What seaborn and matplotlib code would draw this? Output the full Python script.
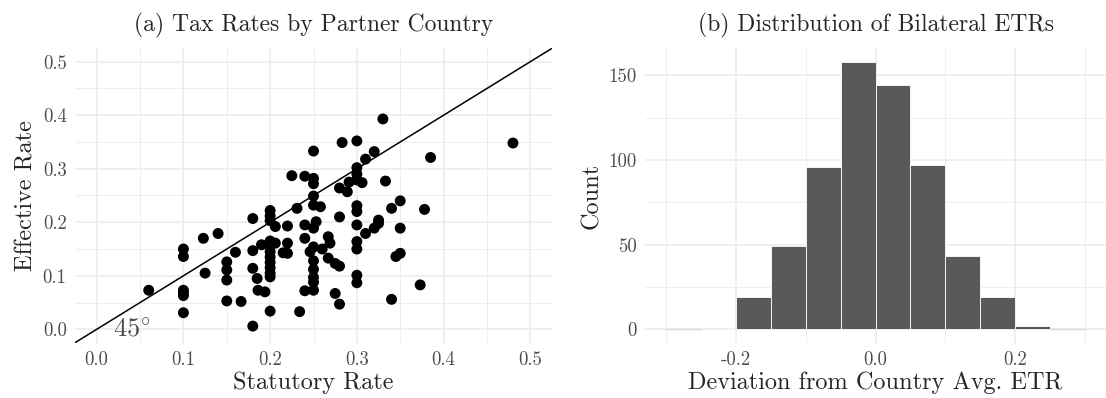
import numpy as np
import pandas as pd
import matplotlib
matplotlib.use('Agg')
import matplotlib.pyplot as plt
import seaborn as sns

# (a) statutory vs effective rate, one point per partner country
statutory = [
    0.06,
    0.10, 0.10, 0.10, 0.10, 0.10, 0.10,
    0.123, 0.125, 0.14,
    0.15, 0.15, 0.15, 0.15,
    0.16, 0.1665,
    0.18, 0.18, 0.18, 0.18, 0.185, 0.186, 0.194, 0.19,
    0.20, 0.20, 0.20, 0.20, 0.20, 0.20, 0.20, 0.20, 0.20, 0.20, 0.20, 0.20,
    0.206, 0.206, 0.215, 0.22, 0.22, 0.22, 0.225, 0.231, 0.234,
    0.24, 0.24, 0.24, 0.24, 0.246,
    0.25, 0.25, 0.25, 0.25, 0.25, 0.25, 0.25, 0.25, 0.25, 0.25, 0.25, 0.25,
    0.253, 0.258, 0.26, 0.267, 0.267, 0.269, 0.275, 0.275,
    0.28, 0.28, 0.28, 0.28, 0.283, 0.289, 0.291,
    0.30, 0.30, 0.30, 0.30, 0.30, 0.30, 0.30, 0.30, 0.30, 0.30, 0.30,
    0.306, 0.31, 0.31, 0.32, 0.32, 0.325, 0.325, 0.33, 0.333,
    0.34, 0.34, 0.345, 0.35, 0.35, 0.35,
    0.373, 0.378, 0.385, 0.48,
]
effective = [
    0.073,
    0.15, 0.136, 0.073, 0.068, 0.063, 0.031,
    0.17, 0.105, 0.179,
    0.126, 0.111, 0.092, 0.053,
    0.144, 0.052,
    0.207, 0.147, 0.114, 0.006, 0.095, 0.073, 0.07, 0.158,
    0.222, 0.212, 0.203, 0.165, 0.155, 0.145, 0.135, 0.125, 0.115, 0.105, 0.098, 0.034,
    0.192, 0.161, 0.143, 0.193, 0.161, 0.142, 0.287, 0.226, 0.033,
    0.286, 0.195, 0.17, 0.072, 0.145,
    0.333, 0.282, 0.272, 0.249, 0.232, 0.189, 0.154, 0.128, 0.112, 0.097, 0.088, 0.073,
    0.201, 0.229, 0.15, 0.173, 0.133, 0.161, 0.123, 0.067,
    0.264, 0.21, 0.118, 0.047, 0.349, 0.257, 0.275,
    0.352, 0.302, 0.29, 0.279, 0.231, 0.22, 0.195, 0.164, 0.15, 0.101, 0.087,
    0.274, 0.318, 0.179, 0.332, 0.189, 0.204, 0.198, 0.393, 0.277,
    0.226, 0.056, 0.136, 0.240, 0.189, 0.142,
    0.083, 0.224, 0.321, 0.348,
]

# (b) histogram of deviations, bins of width 0.05
bin_edges = [-0.30, -0.25, -0.20, -0.15, -0.10, -0.05, 0.00, 0.05, 0.10, 0.15, 0.20, 0.25, 0.30]
bin_counts = [0, 1, 19, 49, 96, 158, 144, 97, 43, 19, 2, 0]

rates = pd.DataFrame({'statutory': statutory, 'effective': effective})
mids = (np.array(bin_edges[:-1]) + np.array(bin_edges[1:])) / 2
hist = pd.DataFrame({'dev': mids, 'n': bin_counts})

sns.set_theme(style='whitegrid')
plt.rcParams['font.family'] = ['cmr10', 'DejaVu Serif']
plt.rcParams['mathtext.fontset'] = 'cm'
plt.rcParams['axes.formatter.use_mathtext'] = True
plt.rcParams['axes.unicode_minus'] = False

fig = plt.figure(figsize=(11.06, 3.98), dpi=100)
ax1 = fig.add_axes([75 / 1106, 1 - 342.7 / 398, 477 / 1106, 294.4 / 398])
ax2 = fig.add_axes([645 / 1106, 1 - 342.7 / 398, 461 / 1106, 294.4 / 398])

grid_col = '#ebebeb'
tick_col = '#4d4d4d'

for ax in (ax1, ax2):
    ax.set_facecolor('white')
    for s in ax.spines.values():
        s.set_visible(False)
    ax.grid(which='major', color=grid_col, linewidth=1.1)
    ax.grid(which='minor', color=grid_col, linewidth=0.6)
    ax.tick_params(which='both', length=0, labelsize=13.5, labelcolor=tick_col, pad=6)
    ax.set_axisbelow(True)

# panel a
sns.scatterplot(data=rates, x='statutory', y='effective', ax=ax1, color='black',
                s=62, edgecolor='none', linewidth=0)
ax1.axline((0, 0), slope=1, color='black', linewidth=1.1)
ax1.text(0.04, 0.0, r'45$^{\circ}$', fontsize=19, color=tick_col, ha='center', va='center')
ax1.set_xlim(-0.025, 0.525)
ax1.set_ylim(-0.025, 0.525)
ticks_a = [0.0, 0.1, 0.2, 0.3, 0.4, 0.5]
ax1.set_xticks(ticks_a, [f'{t:.1f}' for t in ticks_a])
ax1.set_yticks(ticks_a, [f'{t:.1f}' for t in ticks_a])
ax1.set_xticks(np.arange(0.05, 0.5, 0.1), minor=True)
ax1.set_yticks(np.arange(0.05, 0.5, 0.1), minor=True)
ax1.set_xlabel('Statutory Rate', fontsize=17.5, labelpad=2)
ax1.set_ylabel('Effective Rate', fontsize=17.5, labelpad=4)
ax1.set_title('(a) Tax Rates by Partner Country', fontsize=17, pad=12)

# panel b
sns.histplot(data=hist, x='dev', weights='n', bins=bin_edges, ax=ax2,
             color='#595959', edgecolor='white', linewidth=0.6, alpha=1)
# empty bins show as a thin line at zero, as in the original
ax2.hlines(0, bin_edges[0], bin_edges[1], color='#d9d9d9', linewidth=1.0, zorder=1)
ax2.hlines(0, bin_edges[-2], bin_edges[-1], color='#d9d9d9', linewidth=1.0, zorder=1)
ax2.set_xlim(-0.33, 0.33)
ax2.set_ylim(-7.9, 165.9)
ticks_b = [-0.2, 0.0, 0.2]
ax2.set_xticks(ticks_b, [f'{t:.1f}' for t in ticks_b])
ax2.set_xticks([-0.3, -0.1, 0.1, 0.3], minor=True)
ax2.set_yticks([0, 50, 100, 150], ['0', '50', '100', '150'])
ax2.set_yticks([25, 75, 125], minor=True)
ax2.set_xlabel('Deviation from Country Avg. ETR', fontsize=17.5, labelpad=2)
ax2.set_ylabel('Count', fontsize=17.5, labelpad=4)
ax2.set_title('(b) Distribution of Bilateral ETRs', fontsize=17, pad=12)

fig.savefig('out.png', dpi=100)
